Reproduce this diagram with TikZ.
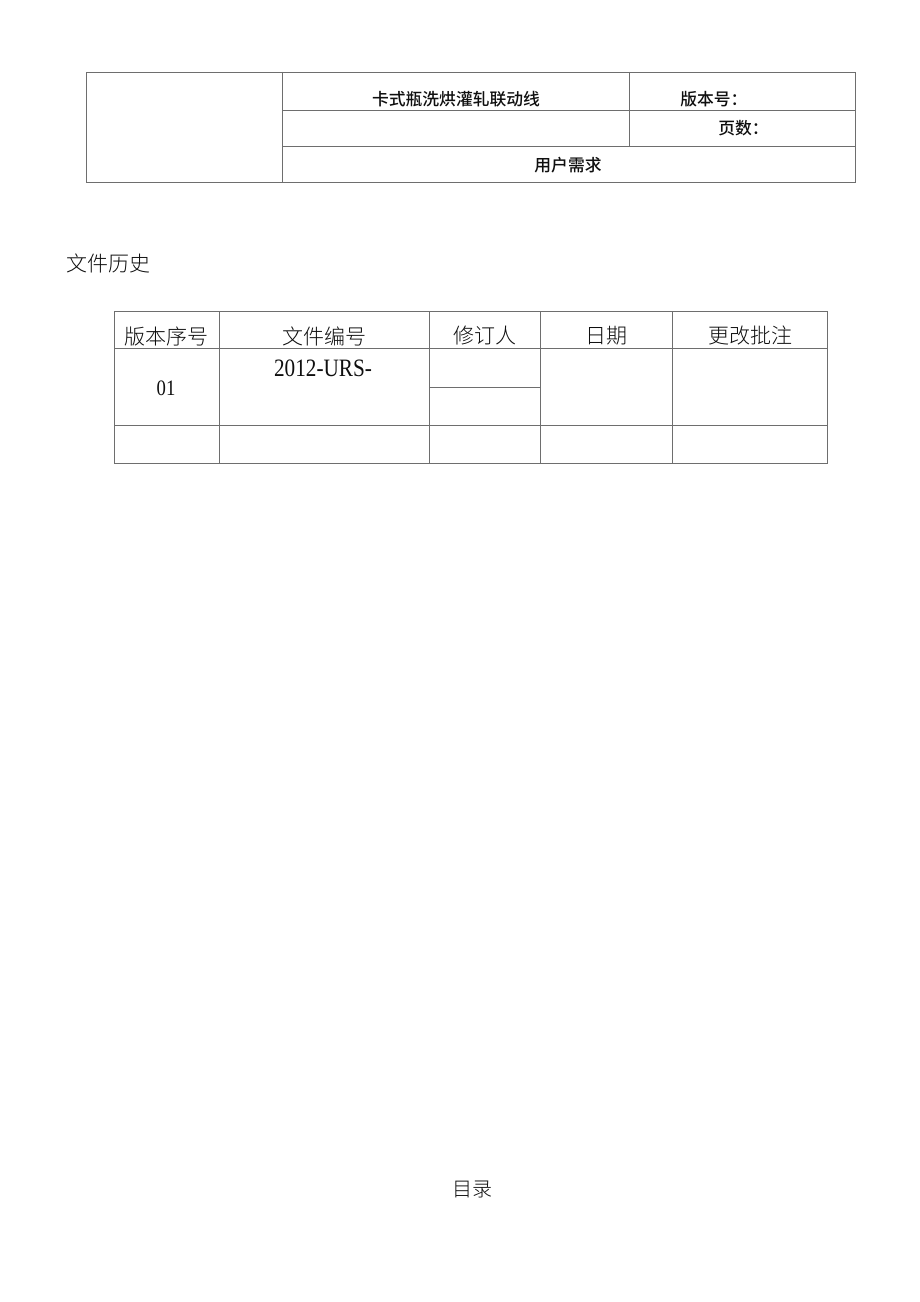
\documentclass[tikz,border=0pt]{standalone}
\usepackage{fontspec}
\usepackage{tikz}
\usetikzlibrary{positioning}
\newfontfamily\cjkfont{Noto Sans CJK SC}[UprightFont=* Medium]
\newfontfamily\cjklight{Noto Sans CJK SC}[UprightFont=* Light]
\newfontfamily\numfont{Liberation Serif}[FakeStretch=0.85]
\definecolor{linegray}{RGB}{110, 110, 110}
\definecolor{textblack}{RGB}{15, 15, 15}
\tikzset{
    % Table rules
    grid line/.style={
        draw=linegray, line width=0.7pt
    },
    % Header table labels
    head label/.style={
        inner sep=0pt, text=textblack,
        font=\cjkfont\fontsize{12.6pt}{14pt}\selectfont
    },
    % History table labels
    cell label/.style={
        inner sep=0pt, text=textblack,
        font=\cjklight\fontsize{15.75pt}{18pt}\selectfont
    },
    % Numbers in the history table
    number label/.style={
        inner sep=0pt, text=textblack,
        font=\numfont\fontsize{18.75pt}{20pt}\selectfont
    },
    % Section titles
    section title/.style={
        inner sep=0pt, text=textblack,
        font=\cjklight\fontsize{15.75pt}{18pt}\selectfont
    }
}

\begin{document}
\begin{tikzpicture}[x=0.75pt, y=-0.75pt]

    % Page
    \fill[white] (0, 0) rectangle (920, 1302);
    \useasboundingbox (0, 0) rectangle (920, 1302);

    % ======== HEADER TABLE ========
    \draw[grid line] (86, 72) rectangle (855, 182);
    \draw[grid line] (282, 72) -- (282, 182);
    \draw[grid line] (629, 72) -- (629, 146);
    \draw[grid line] (282, 110) -- (855, 110);
    \draw[grid line] (282, 146) -- (855, 146);

    \node[head label] (title) at (456, 99) {卡式瓶洗烘灌轧联动线};
    \node[head label, anchor=west] (version) at (680, 99) {版本号：};
    \node[head label, anchor=west] (pages) at (718, 128) {页数：};
    \node[head label] (userreq) at (568, 165) {用户需求};

    % ======== FILE HISTORY ========
    \node[section title, anchor=west] (history) at (66, 263) {文件历史};

    % Table frame
    \draw[grid line] (114, 311) rectangle (827, 463);
    \draw[grid line] (219, 311) -- (219, 463);
    \draw[grid line] (429, 311) -- (429, 463);
    \draw[grid line] (540, 311) -- (540, 463);
    \draw[grid line] (672, 311) -- (672, 463);
    \draw[grid line] (114, 348) -- (827, 348);
    \draw[grid line] (114, 425) -- (827, 425);
    \draw[grid line] (429, 387) -- (540, 387);

    % Column heads
    \node[cell label] (h1) at (166, 336) {版本序号};
    \node[cell label] (h2) at (324, 336) {文件编号};
    \node[cell label] (h3) at (485, 336) {修订人};
    \node[cell label] (h4) at (606, 336) {日期};
    \node[cell label] (h5) at (750, 336) {更改批注};

    % First entry
    \node[number label, font=\numfont\fontsize{16.5pt}{18pt}\selectfont] (ver01) at (166, 388) {01};
    \node[number label] (docno) at (323, 368) {2012-URS-};

    % ======== CONTENTS ========
    \node[section title, font=\cjklight\fontsize{15pt}{18pt}\selectfont] (toc) at (472, 1189) {目录};

\end{tikzpicture}
\end{document}
